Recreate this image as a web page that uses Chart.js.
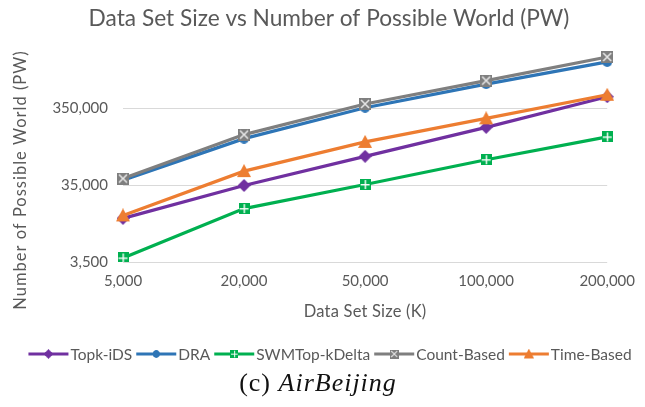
<!DOCTYPE html>
<html>
<head>
<meta charset="utf-8">
<script src="https://cdn.jsdelivr.net/npm/chart.js@4.4.1/dist/chart.umd.min.js"></script>
<style>
  html, body { margin: 0; padding: 0; background: #fff; }
  #wrap { width: 645px; height: 407px; }
</style>
</head>
<body>
<div id="wrap"><canvas id="pwChart" width="645" height="407"></canvas></div>
<script>
// Data
const sizes = ['5,000', '20,000', '50,000', '100,000', '200,000'];
const topkIDS = [12900, 34500, 82500, 196000, 490000];
const dra = [40500, 140000, 353000, 715000, 1390000];
const swmTopkDelta = [3950, 17300, 35500, 74500, 147500];
const countBased = [42500, 158000, 395000, 795000, 1610000];
const timeBased = [14100, 53000, 127000, 257000, 520000];
const yTicks = [3500, 35000, 350000];

const chartTitle = 'Data Set Size vs Number of Possible World (PW)';
const xTitle = 'Data Set Size (K)';
const yTitle = 'Number of Possible World (PW)';

const TEXT = '#595959';
const FONT = 'Lato, "Open Sans", sans-serif';

// Marker images (used on the lines and in the legend)
function makeMarker(size, draw) {
    const c = document.createElement('canvas');
    c.width = size;
    c.height = size;
    draw(c.getContext('2d'), size);
    return c;
}

const diamond = (color) => makeMarker(13, (g, s) => {
    g.fillStyle = color;
    g.beginPath();
    g.moveTo(s / 2, 0); g.lineTo(s, s / 2); g.lineTo(s / 2, s); g.lineTo(0, s / 2);
    g.closePath(); g.fill();
});
const circle = (color) => makeMarker(10, (g, s) => {
    g.fillStyle = color;
    g.beginPath(); g.arc(s / 2, s / 2, s / 2, 0, Math.PI * 2); g.fill();
});
const squarePlus = (color) => makeMarker(11, (g, s) => {
    g.fillStyle = color; g.fillRect(0, 0, s, s);
    g.fillStyle = '#fff';
    g.fillRect(5, 1, 1.4, s - 2);
    g.fillRect(1, 5, s - 2, 1.4);
});
const squareX = (color) => makeMarker(12, (g, s) => {
    g.fillStyle = color; g.fillRect(0, 0, s, s);
    g.strokeStyle = '#e6e6e6'; g.lineWidth = 1.6;
    g.beginPath();
    g.moveTo(2, 2); g.lineTo(s - 2, s - 2);
    g.moveTo(s - 2, 2); g.lineTo(2, s - 2);
    g.stroke();
});
const triangle = (color) => makeMarker(14, (g, s) => {
    g.fillStyle = color;
    g.beginPath();
    g.moveTo(s / 2, 0); g.lineTo(s, s - 1); g.lineTo(0, s - 1);
    g.closePath(); g.fill();
});

function series(label, data, color, marker, order) {
    return {
        label: label,
        data: data,
        borderColor: color,
        backgroundColor: color,
        borderWidth: 3.2,
        pointStyle: marker,
        pointRadius: 6,
        tension: 0,
        order: order
    };
}

// Titles, legend and caption
const annotate = {
    id: 'annotate',
    afterDraw(chart) {
        const g = chart.ctx;
        const a = chart.chartArea;
        g.save();
        g.fillStyle = TEXT;
        g.textAlign = 'center';
        g.textBaseline = 'middle';

        g.font = '22.7px ' + FONT;
        g.fillText(chartTitle, 329, 19);

        g.font = '16.5px ' + FONT;
        g.letterSpacing = '0.2px';
        g.fillText(xTitle, (a.left + a.right) / 2, 312);

        g.save();
        g.letterSpacing = '1px';
        g.translate(21, 180);
        g.rotate(-Math.PI / 2);
        g.fillText(yTitle, 0, 0);
        g.restore();
        g.letterSpacing = '0px';

        // legend: line segment with marker, then label
        g.font = '15.5px ' + FONT;
        g.textAlign = 'left';
        const seg = 40, gapIn = 2, gapOut = 4, ly = 354;
        const items = chart.data.datasets;
        const widths = items.map(d => g.measureText(d.label).width);
        let total = widths.reduce((s, w) => s + seg + gapIn + w, 0) + gapOut * (items.length - 1);
        let x = 330 - total / 2;
        items.forEach((d, i) => {
            g.strokeStyle = d.borderColor;
            g.lineWidth = 3.2;
            g.beginPath(); g.moveTo(x, ly); g.lineTo(x + seg, ly); g.stroke();
            const m = d.pointStyle, k = 0.75;
            g.drawImage(m, x + seg / 2 - m.width * k / 2, ly - m.height * k / 2, m.width * k, m.height * k);
            g.fillStyle = TEXT;
            g.fillText(d.label, x + seg + gapIn, ly + 1);
            x += seg + gapIn + widths[i] + gapOut;
        });

        // caption
        g.fillStyle = '#111';
        g.textBaseline = 'middle';
        g.letterSpacing = '1px';
        const up = '(c) ', it = 'AirBeijing';
        g.font = '26px "Liberation Serif", serif';
        const wUp = g.measureText(up).width;
        g.font = 'italic 26px "Liberation Serif", serif';
        const wIt = g.measureText(it).width;
        let cx = 318 - (wUp + wIt) / 2;
        g.font = '26px "Liberation Serif", serif';
        g.fillText(up, cx, 384);
        g.font = 'italic 26px "Liberation Serif", serif';
        g.fillText(it, cx + wUp, 384);
        g.restore();
    }
};

const ctx = document.getElementById('pwChart').getContext('2d');
const chart = new Chart(ctx, {
    type: 'line',
    data: {
        labels: sizes,
        datasets: [
            series('Topk-iDS', topkIDS, '#7030A0', diamond('#7030A0'), 5),
            series('DRA', dra, '#2E75B6', circle('#2E75B6'), 4),
            series('SWMTop-kDelta', swmTopkDelta, '#00B050', squarePlus('#00B050'), 3),
            series('Count-Based', countBased, '#7F7F7F', squareX('#7F7F7F'), 2),
            series('Time-Based', timeBased, '#ED7D31', triangle('#ED7D31'), 1)
        ]
    },
    options: {
        responsive: false,
        animation: false,
        layout: { padding: { top: 31, left: 0, right: 0, bottom: 0 } },
        plugins: {
            legend: { display: false },
            tooltip: { enabled: false },
            title: { display: false }
        },
        scales: {
            x: {
                grid: { display: false, drawTicks: false },
                border: { display: false },
                ticks: { color: TEXT, font: { family: FONT, size: 15 }, padding: 10, maxRotation: 0 },
                afterFit: (s) => { s.height = 145; }
            },
            y: {
                type: 'logarithmic',
                min: 3500,
                max: 3500000,
                afterBuildTicks: (s) => { s.ticks = yTicks.map(v => ({ value: v })); },
                grid: { color: '#D9D9D9', drawTicks: false },
                border: { display: false },
                ticks: {
                    color: TEXT,
                    font: { family: FONT, size: 15 },
                    padding: 15,
                    callback: (v) => Number(v).toLocaleString('en-US')
                },
                afterFit: (s) => { s.width = 123; }
            }
        }
    },
    plugins: [annotate]
});
</script>
</body>
</html>
